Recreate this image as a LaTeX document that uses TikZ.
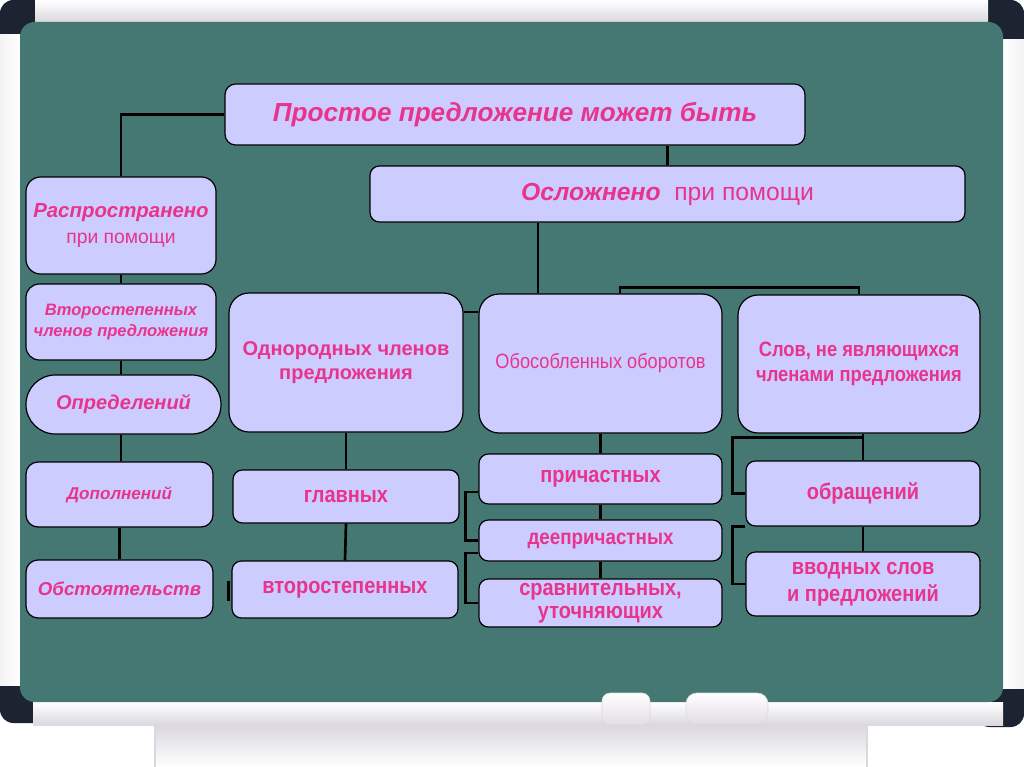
\documentclass[tikz,border=0pt]{standalone}
\usepackage{fontspec}
\setmainfont{Liberation Sans}
\newfontfamily\narrowsans{Liberation Sans}[FakeStretch=0.88]
\definecolor{board}{RGB}{70,120,115}
\definecolor{boxfill}{RGB}{204,204,255}
\definecolor{pinktxt}{RGB}{232,52,140}
\definecolor{capdark}{RGB}{28,36,50}
\definecolor{framew}{RGB}{242,241,244}
\definecolor{frameg}{RGB}{218,215,222}
\definecolor{eraser}{RGB}{226,220,228}
\tikzset{
  bx/.style={draw=black, line width=0.9pt, fill=boxfill, rounded corners=7pt,
    align=center, text=pinktxt, inner sep=1pt},
  link/.style={draw=black, line width=2pt},
  fb/.style={font=\narrowsans\bfseries\fontsize{17}{20.5}\selectfont},
}
\begin{document}
\begin{tikzpicture}[x=0.75pt,y=-0.75pt]
\useasboundingbox (0,0) rectangle (1024,767);
\fill[white] (0,0) rectangle (1024,767);
% frame corners
\fill[capdark, rounded corners=10pt] (0,0) rectangle (48,48);
\fill[capdark, rounded corners=10pt] (976,0) rectangle (1024,52);
\fill[capdark, rounded corners=10pt] (0,668) rectangle (48,723);
\fill[capdark, rounded corners=10pt] (976,670) rectangle (1024,727);
% frame strips
\shade[top color=white, bottom color=frameg] (35,0) rectangle (988,22);
\shade[left color=framew, right color=white] (0,35) rectangle (20,685);
\shade[left color=white, right color=framew] (1003,40) rectangle (1024,688);
\shade[top color=white, bottom color=frameg] (33,702) rectangle (1003,725);
\shade[top color=frameg, bottom color=white] (155,725) rectangle (867,767);
\draw[frameg, line width=0.8pt] (155,725) -- (155,767);
\draw[frameg, line width=0.8pt] (867,725) -- (867,767);
% board
\fill[board, rounded corners=11pt] (20,22) rectangle (1003,702);
% erasers
\shade[top color=white, bottom color=eraser, draw=frameg, rounded corners=6pt] (602,693) rectangle (650,725);
\shade[top color=white, bottom color=eraser, draw=frameg, rounded corners=8pt] (686,693) rectangle (768,724);

% nodes
\node[bx, rounded corners=8pt, minimum width=435pt, minimum height=45.75pt,
  font=\bfseries\itshape\fontsize{19.6}{24}\selectfont] (top) at (515,114.5) {Простое предложение может быть};
\node[bx, minimum width=446.25pt, minimum height=42pt,
  font=\fontsize{18.5}{22}\selectfont] (osl) at (667.5,194) {\textbf{\textit{Осложнено}}\ \ при помощи};
\node[bx, rounded corners=11pt, minimum width=142.5pt, minimum height=72.75pt,
  font=\fontsize{14.5}{19}\selectfont] (rasp) at (121,225.5)
  {{\bfseries\itshape\fontsize{15.3}{19}\selectfont Распространено}\\при помощи};
\node[bx, rounded corners=10pt, minimum width=142.5pt, minimum height=57pt,
  font=\bfseries\itshape\fontsize{12.4}{15.5}\selectfont] (vtor) at (121,322) {Второстепенных\\членов предложения};
\node[bx, rounded corners=22pt, minimum width=146.25pt, minimum height=44.25pt,
  font=\bfseries\itshape\fontsize{15}{18}\selectfont] (opr) at (123.5,404.5) {Определений};
\node[bx, rounded corners=9pt, minimum width=140.25pt, minimum height=48.75pt,
  font=\bfseries\itshape\fontsize{12.8}{15}\selectfont] (dop) at (119.5,494.5) {Дополнений};
\node[bx, rounded corners=9pt, minimum width=140.25pt, minimum height=43.5pt,
  font=\bfseries\itshape\fontsize{14}{17}\selectfont] (obst) at (119.5,589) {Обстоятельств};

\node[bx, rounded corners=15pt, minimum width=175.5pt, minimum height=104.25pt,
  font=\bfseries\fontsize{15}{18.5}\selectfont] (odn) at (346,362.5) {Однородных членов\\предложения};
\node[bx, fb, minimum width=169.5pt, minimum height=39.75pt] (glav) at (346,496.5) {главных};
\node[bx, fb, minimum width=169.5pt, minimum height=42.75pt] (vtst) at (345,589.5) {второстепенных};

\node[bx, rounded corners=15pt, minimum width=182.25pt, minimum height=104.25pt,
  font=\narrowsans\fontsize{15.5}{18}\selectfont] (obos) at (600.5,363.5) {Обособленных оборотов};
\node[bx, fb, minimum width=182.25pt, minimum height=37.5pt] (prich) at (600.5,479) {причастных};
\node[bx, font=\narrowsans\bfseries\fontsize{16}{18}\selectfont, minimum width=182.25pt, minimum height=30.75pt] (deep) at (600.5,540.5) {деепричастных};
\node[bx, font=\narrowsans\bfseries\fontsize{17}{17.5}\selectfont, minimum width=182.25pt, minimum height=36pt] (srav) at (600.5,603) {сравнительных,\\уточняющих};

\node[bx, rounded corners=15pt, minimum width=181.5pt, minimum height=103.5pt,
  font=\narrowsans\bfseries\fontsize{15.6}{18.5}\selectfont] (slov) at (859,364) {Слов, не являющихся\\членами предложения};
\node[bx, fb, minimum width=175.5pt, minimum height=48.75pt] (obr) at (863,493.5) {обращений};
\node[bx, fb, minimum width=175.5pt, minimum height=48pt] (vvod) at (863,584) {вводных слов\\и предложений};

% connectors
\draw[link] (top.west) -| (rasp.north);
\draw[link] (osl.north) -- (osl.north |- top.south);
\draw[link] (rasp.south) -- (vtor.north);
\draw[link] (vtor.south) -- (vtor.south |- opr.north);
\draw[link] (vtor.south |- opr.south) -- (vtor.south |- dop.north);
\draw[link] (dop.south) -- (obst.north);
\draw[link] ([xshift=-47pt]obos.north) -- ([xshift=-47pt]obos.north |- osl.south);
\draw[link] ([xshift=14.5pt]obos.north) -- ++(0,-6) -| (slov.north);
\draw[link] ([yshift=38pt]odn.east) -- ([yshift=38pt]odn.east -| obos.west);
\draw[link] (odn.south) -- (glav.north);
\draw[link] (glav.south) -- (vtst.north);
\draw[link] (obos.south) -- (prich.north);
\draw[link] (prich.south) -- (deep.north);
\draw[link] (deep.south) -- (srav.north);
\draw[link] ([yshift=-9.75pt]prich.west) -- ++(-13,0) |- (deep.west);
\draw[link] ([yshift=-9.4pt]deep.west) -- ++(-13,0) |- (srav.west);
\draw[link] (obr.north) -- (obr.north |- slov.south);
\draw[link] (obr.west) -- ++(-13,0) |- ([yshift=-3pt]slov.south -| obr.north);
\draw[link] (obr.south) -- (vvod.north);
\draw[link] (obr.south west) -- ++(-13,0) |- (vvod.west);
\draw[link] ([xshift=-2pt]vtst.west) ++(0,-9) -- ++(0,20);
\end{tikzpicture}
\end{document}
